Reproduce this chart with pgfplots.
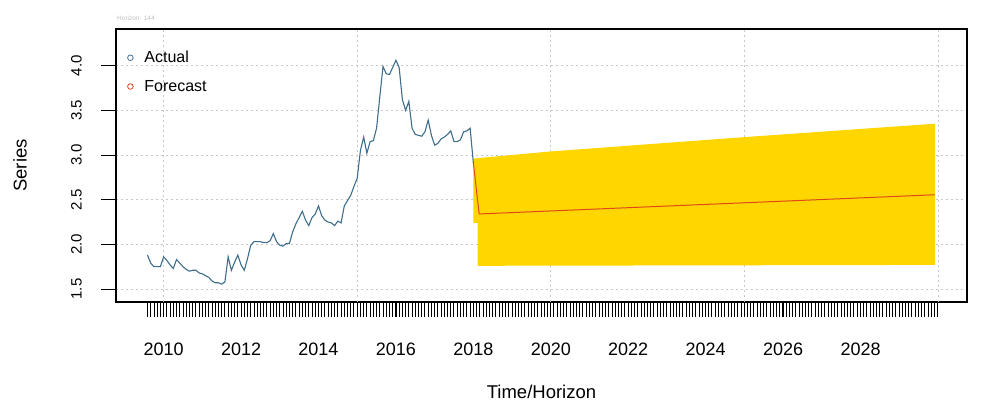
\documentclass[border=0pt]{standalone}
\usepackage{fontspec}
\setmainfont{Liberation Sans}
\usepackage{pgfplots}
\pgfplotsset{compat=1.18}

\definecolor{actualcol}{RGB}{62,110,140}
\definecolor{fccol}{RGB}{222,72,28}
\definecolor{bandcol}{RGB}{255,214,0}
\definecolor{gridcol}{RGB}{200,200,200}
\definecolor{notecol}{RGB}{190,190,190}

% monthly observations of the series
\pgfplotstableread{
t y
2009.5833 1.88
2009.6667 1.79
2009.7500 1.75
2009.8333 1.75
2009.9167 1.75
2010.0000 1.86
2010.0833 1.82
2010.1667 1.77
2010.2500 1.73
2010.3333 1.83
2010.4167 1.79
2010.5000 1.75
2010.5833 1.72
2010.6667 1.70
2010.7500 1.71
2010.8333 1.71
2010.9167 1.68
2011.0000 1.67
2011.0833 1.65
2011.1667 1.63
2011.2500 1.59
2011.3333 1.57
2011.4167 1.57
2011.5000 1.555
2011.5833 1.58
2011.6667 1.86
2011.7500 1.71
2011.8333 1.80
2011.9167 1.88
2012.0000 1.77
2012.0833 1.71
2012.1667 1.84
2012.2500 1.99
2012.3333 2.03
2012.4167 2.03
2012.5000 2.03
2012.5833 2.02
2012.6667 2.02
2012.7500 2.04
2012.8333 2.12
2012.9167 2.03
2013.0000 1.99
2013.0833 1.98
2013.1667 2.01
2013.2500 2.01
2013.3333 2.14
2013.4167 2.23
2013.5000 2.30
2013.5833 2.37
2013.6667 2.27
2013.7500 2.21
2013.8333 2.30
2013.9167 2.34
2014.0000 2.43
2014.0833 2.32
2014.1667 2.27
2014.2500 2.25
2014.3333 2.24
2014.4167 2.21
2014.5000 2.26
2014.5833 2.24
2014.6667 2.43
2014.7500 2.49
2014.8333 2.55
2014.9167 2.65
2015.0000 2.74
2015.0833 3.05
2015.1667 3.20
2015.2500 3.02
2015.3333 3.15
2015.4167 3.16
2015.5000 3.30
2015.5833 3.65
2015.6667 3.99
2015.7500 3.91
2015.8333 3.90
2015.9167 3.98
2016.0000 4.06
2016.0833 3.98
2016.1667 3.62
2016.2500 3.50
2016.3333 3.60
2016.4167 3.30
2016.5000 3.23
2016.5833 3.22
2016.6667 3.21
2016.7500 3.26
2016.8333 3.39
2016.9167 3.22
2017.0000 3.11
2017.0833 3.13
2017.1667 3.18
2017.2500 3.20
2017.3333 3.23
2017.4167 3.27
2017.5000 3.15
2017.5833 3.15
2017.6667 3.17
2017.7500 3.26
2017.8333 3.27
2017.9167 3.30
2018.0000 2.91
}\actualtab

% point forecast
\pgfplotstableread{
t y
2018.0000 2.91
2018.1500 2.34
2029.9167 2.555
}\forecasttab

% prediction interval outline
\pgfplotstableread{
t y
2018.0000 2.24
2018.0000 2.96
2020.0000 3.04
2025.0000 3.20
2029.9167 3.35
2029.9167 1.77
2018.1100 1.76
2018.1100 2.24
}\bandtab

\begin{document}
\begin{tikzpicture}[x=1pt,y=1pt]
\useasboundingbox (0,0) rectangle (981,411);
\node[anchor=west, text=notecol, font=\fontsize{6.5}{7}\selectfont, inner sep=0pt] at (117,393) {Horizon: 144};
\begin{axis}[
  at={(116pt,109pt)}, anchor=south west,
  width=851pt, height=273pt, scale only axis,
  xmin=2008.77, xmax=2030.75, ymin=1.355, ymax=4.41,
  axis line style={line width=1.2pt},
  /pgf/number format/assume math mode=true,
  tick align=outside,
  xtick pos=bottom, ytick pos=left,
  major tick length=15pt, minor tick length=15pt,
  every tick/.style={black, line width=0.8pt},
  xtick={2010,2012,...,2028},
  minor xtick={2009.58333,2009.66667,...,2029.95},
  x tick label style={/pgf/number format/1000 sep={}},
  xticklabel style={font=\fontsize{18}{20}\selectfont, anchor=north, inner sep=0pt, yshift=-25.5pt},
  ytick={1.5,2.0,...,4.0},
  y tick label style={/pgf/number format/.cd, fixed, fixed zerofill, precision=1, /tikz/.cd},
  yticklabel style={font=\fontsize{15}{17}\selectfont, xshift=-19pt, rotate=90, anchor=south, inner sep=0pt},
  ymajorgrids=true,
  extra x ticks={2010,2015,2020,2025,2030},
  extra x tick labels={},
  extra x tick style={grid=major, tick style={draw=none}},
  major grid style={draw=gridcol, line width=0.8pt, dash pattern=on 2pt off 3pt},
  every axis x label/.style={at={(axis description cs:0.5,-0.33)}, anchor=center},
  every axis y label/.style={at={(axis description cs:-0.1128,0.5)}, rotate=90, anchor=center},
  xlabel={\fontsize{18.5}{20}\selectfont Time/Horizon},
  ylabel={\fontsize{18.5}{20}\selectfont Series},
  legend style={at={(0,1)}, anchor=north west, xshift=9pt, yshift=-18pt, draw=none, fill=none,
    font=\fontsize{16}{18}\selectfont, row sep=12pt, inner sep=2pt},
  legend cell align=left,
  legend image code/.code={\path[draw=none] (0pt,0pt) -- (15pt,0pt); \draw[#1, line width=0.8pt, fill=none] (3pt,0pt) circle (2.8pt);},
]
\addplot[fill=bandcol, draw=none, forget plot] table[x=t, y=y] {\bandtab} -- cycle;
\addplot[actualcol, line width=1.1pt, forget plot] table[x=t, y=y] {\actualtab};
\addplot[fccol, line width=1pt, forget plot] table[x=t, y=y] {\forecasttab};
\addlegendimage{actualcol}
\addlegendentry{Actual}
\addlegendimage{fccol}
\addlegendentry{Forecast}
\end{axis}
\end{tikzpicture}
\end{document}
